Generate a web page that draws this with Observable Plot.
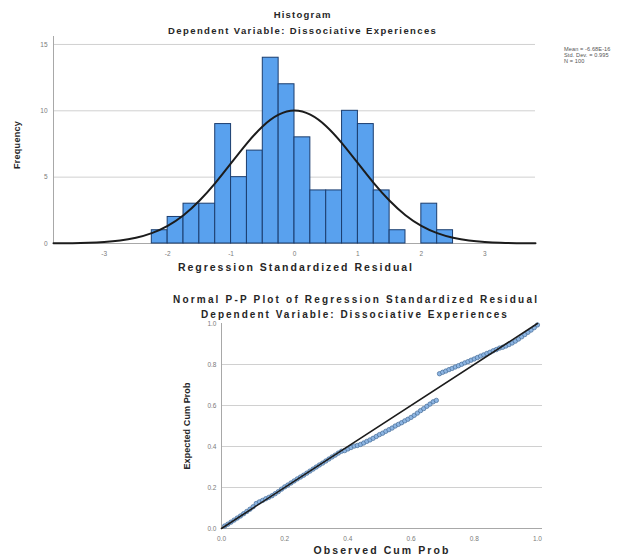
<!DOCTYPE html>
<html>
<head>
<meta charset="utf-8">
<script src="https://cdn.jsdelivr.net/npm/d3@7"></script>
<script src="https://cdn.jsdelivr.net/npm/@observablehq/plot@0.6"></script>
<style>
  html, body { margin: 0; padding: 0; background: #fff; }
  #wrap { position: relative; width: 617px; height: 558px; overflow: hidden; background: #fff; }
  #wrap svg { position: absolute; left: 0; }
  .lbl { position: absolute; white-space: nowrap; line-height: 1; color: #262626; }
</style>
</head>
<body>
<div id="wrap"></div>
<script>
// ---------- Histogram data ----------
const binLo = [-2.25, -2.0, -1.75, -1.5, -1.25, -1.0, -0.75, -0.5, -0.25, 0.0, 0.25, 0.5, 0.75, 1.0, 1.25, 1.5, 1.75, 2.0, 2.25];
const binCounts = [1, 2, 3, 3, 9, 5, 7, 14, 12, 8, 4, 4, 10, 9, 4, 1, 0, 3, 1];
const binWidth = 0.25;
const histXTicks = [-3, -2, -1, 0, 1, 2, 3];
const histYTicks = [0, 5, 10, 15];

// normal curve
const curveX = [-3.8, -3.5, -3.25, -3.0, -2.75, -2.5, -2.25, -2.0, -1.75, -1.5, -1.25, -1.0, -0.75, -0.5, -0.25, 0.0, 0.25, 0.5, 0.75, 1.0, 1.25, 1.5, 1.75, 2.0, 2.25, 2.5, 2.75, 3.0, 3.25, 3.5, 3.8];
const curveY = [0.01, 0.02, 0.05, 0.11, 0.22, 0.43, 0.78, 1.33, 2.13, 3.22, 4.55, 6.05, 7.55, 8.84, 9.71, 10.02, 9.71, 8.84, 7.55, 6.05, 4.55, 3.22, 2.13, 1.33, 0.78, 0.43, 0.22, 0.11, 0.05, 0.02, 0.01];

const legendLines = ["Mean = -6.68E-16", "Std. Dev. = 0.995", "N = 100"];

// ---------- P-P plot data ----------
const observedCum = [
  0.01,0.02,0.03,0.04,0.05,0.06,0.07,0.08,0.09,0.10,
  0.11,0.12,0.13,0.14,0.15,0.16,0.17,0.18,0.19,0.20,
  0.21,0.22,0.23,0.24,0.25,0.26,0.27,0.28,0.29,0.30,
  0.31,0.32,0.33,0.34,0.35,0.36,0.37,0.38,0.39,0.40,
  0.41,0.42,0.43,0.44,0.45,0.46,0.47,0.48,0.49,0.50,
  0.51,0.52,0.53,0.54,0.55,0.56,0.57,0.58,0.59,0.60,
  0.61,0.62,0.63,0.64,0.65,0.66,0.67,0.68,0.69,0.70,
  0.71,0.72,0.73,0.74,0.75,0.76,0.77,0.78,0.79,0.80,
  0.81,0.82,0.83,0.84,0.85,0.86,0.87,0.88,0.89,0.90,
  0.91,0.92,0.93,0.94,0.95,0.96,0.97,0.98,0.99,1.00];
const expectedCum = [
  0.012,0.021,0.031,0.041,0.051,0.061,0.072,0.083,0.094,0.106,
  0.122,0.130,0.137,0.145,0.152,0.160,0.170,0.180,0.192,0.203,
  0.212,0.222,0.232,0.242,0.251,0.260,0.270,0.280,0.290,0.300,
  0.310,0.319,0.329,0.339,0.349,0.358,0.368,0.377,0.380,0.388,
  0.395,0.402,0.405,0.410,0.417,0.425,0.432,0.440,0.449,0.458,
  0.465,0.474,0.482,0.490,0.500,0.508,0.516,0.525,0.533,0.542,
  0.552,0.563,0.575,0.585,0.596,0.607,0.618,0.625,0.755,0.762,
  0.768,0.775,0.781,0.788,0.794,0.801,0.808,0.814,0.821,0.827,
  0.834,0.841,0.847,0.854,0.860,0.867,0.873,0.880,0.884,0.890,
  0.897,0.905,0.914,0.924,0.935,0.946,0.957,0.968,0.980,0.993];
const refLine = [0, 1];
const ppTicks = [0, 0.2, 0.4, 0.6, 0.8, 1.0];
const ppGrid = [0.2, 0.4, 0.6, 0.8];

// ---------- build ----------
const wrap = document.getElementById("wrap");
const FAM = "'Liberation Sans', Arial, sans-serif";

const bins = binLo.map((lo, i) => ({lo, hi: lo + binWidth, count: binCounts[i]})).filter(d => d.count > 0);
const curve = curveX.map((x, i) => ({x, y: curveY[i]}));

const hist = Plot.plot({
  width: 617, height: 280,
  marginLeft: 53, marginRight: 82, marginTop: 36, marginBottom: 37,
  x: {domain: [-3.8, 3.8]},
  y: {domain: [0, 15.6]},
  style: {fontFamily: FAM, fontSize: "6.5px", background: "transparent"},
  marks: [
    Plot.gridY(histYTicks.filter(d => d > 0), {stroke: "#d0d0d0", strokeOpacity: 1}),
    Plot.ruleX([-3.8], {stroke: "#a8a8a8"}),
    Plot.ruleY([0], {stroke: "#a8a8a8"}),
    Plot.rectY(bins, {x1: "lo", x2: "hi", y: "count", fill: "#59a1ee", stroke: "#1b3d6e", strokeWidth: 1}),
    Plot.line(curve, {x: "x", y: "y", stroke: "#1c1c1c", strokeWidth: 2, curve: "natural"}),
    Plot.axisX({ticks: histXTicks, tickSize: 0, tickPadding: 8, tickFormat: d => String(d), fill: "#7a7a7a", label: null}),
    Plot.axisY({ticks: histYTicks, tickSize: 0, tickPadding: 6, tickFormat: d => String(d), fill: "#7a7a7a", label: null})
  ]
});
hist.style.top = "0px";
wrap.appendChild(hist);

const pp = observedCum.map((o, i) => ({o, e: expectedCum[i]}));
const ppPlot = Plot.plot({
  width: 617, height: 268,
  marginLeft: 221, marginRight: 75, marginTop: 33, marginBottom: 30,
  x: {domain: [0, 1.016]},
  y: {domain: [0, 1]},
  style: {fontFamily: FAM, fontSize: "6.5px", background: "transparent"},
  marks: [
    Plot.gridY(ppGrid, {stroke: "#d0d0d0", strokeOpacity: 1}),
    Plot.ruleY([0], {stroke: "#a8a8a8"}),
    Plot.ruleX([0], {stroke: "#a8a8a8"}),
    Plot.dot(pp, {x: "o", y: "e", r: 2.2, fill: "#8db5e2", stroke: "#456c96", strokeWidth: 0.7}),
    Plot.line(refLine, {x: d => d, y: d => d, stroke: "#1c1c1c", strokeWidth: 1.6}),
    Plot.axisX({ticks: ppTicks, tickSize: 0, tickPadding: 8, tickFormat: d3.format(".1f"), fill: "#7a7a7a", label: null}),
    Plot.axisY({ticks: ppTicks, tickSize: 0, tickPadding: 5, tickFormat: d3.format(".1f"), fill: "#7a7a7a", label: null})
  ]
});
ppPlot.style.top = "290px";
wrap.appendChild(ppPlot);

// ---------- text ----------
const ctx = document.createElement("canvas").getContext("2d");
function label(txt, cx, cy, w, fs, rot) {
  ctx.font = `bold ${fs}px ${FAM}`;
  const w0 = ctx.measureText(txt).width;
  const ls = (w - w0) / txt.length;
  const el = document.createElement("div");
  el.className = "lbl";
  el.textContent = txt;
  el.style.font = `bold ${fs}px ${FAM}`;
  el.style.letterSpacing = ls.toFixed(2) + "px";
  el.style.left = (cx + ls / 2) + "px";
  el.style.top = cy + "px";
  el.style.transform = "translate(-50%,-50%)" + (rot ? " rotate(-90deg)" : "");
  wrap.appendChild(el);
}
label("Histogram", 302, 14, 58, 9.5);
label("Dependent Variable: Dissociative Experiences", 302, 30, 269, 9.5);
label("Frequency", 17, 145, 48, 9, true);
label("Regression Standardized Residual", 295, 267, 236, 10.5);
label("Normal P-P Plot of Regression Standardized Residual", 355, 299, 366, 10);
label("Dependent Variable: Dissociative Experiences", 354, 314, 308, 10);
label("Expected Cum Prob", 187, 426, 87, 9, true);
label("Observed Cum Prob", 381, 550, 137, 10.5);

legendLines.forEach((t, i) => {
  const el = document.createElement("div");
  el.className = "lbl";
  el.textContent = t;
  el.style.font = `5.6px ${FAM}`;
  el.style.letterSpacing = "0.1px";
  el.style.color = "#555";
  el.style.left = "564px";
  el.style.top = (46 + i * 6) + "px";
  wrap.appendChild(el);
});
</script>
</body>
</html>
